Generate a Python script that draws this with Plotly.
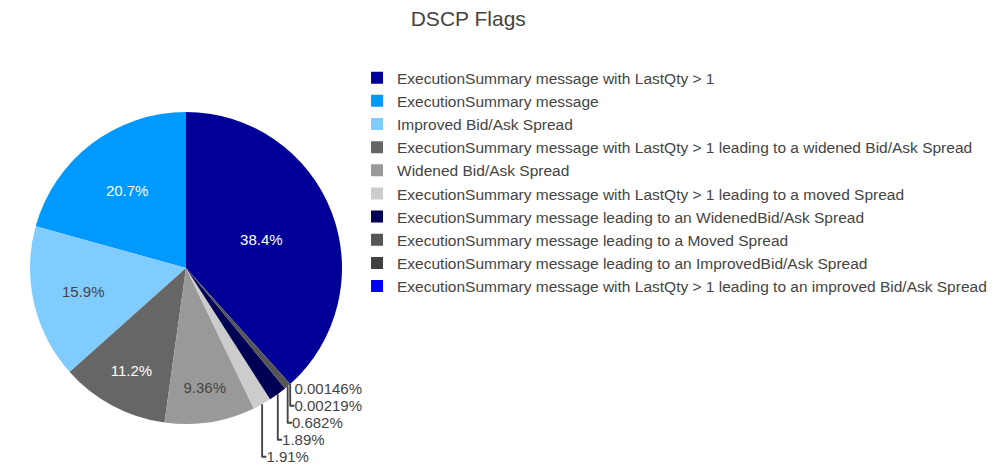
import plotly.graph_objects as go

labels = [
    "ExecutionSummary message with LastQty > 1",
    "ExecutionSummary message",
    "Improved Bid/Ask Spread",
    "ExecutionSummary message with LastQty > 1 leading to a widened Bid/Ask Spread",
    "Widened Bid/Ask Spread",
    "ExecutionSummary message with LastQty > 1 leading to a moved Spread",
    "ExecutionSummary message leading to an WidenedBid/Ask Spread",
    "ExecutionSummary message leading to a Moved Spread",
    "ExecutionSummary message leading to an ImprovedBid/Ask Spread",
    "ExecutionSummary message with LastQty > 1 leading to an improved Bid/Ask Spread",
]
values = [38.36, 20.7, 15.9, 11.2, 9.36, 1.91, 1.89, 0.682, 0.00219, 0.00146]
colors = ["#000099", "#0099ff", "#80ccff", "#666666", "#999999",
          "#cccccc", "#000055", "#555555", "#404040", "#0000ff"]

fig = go.Figure(go.Pie(
    labels=labels,
    values=values,
    sort=False,
    direction="counterclockwise",
    rotation=0,
    marker=dict(colors=colors),
    textinfo="percent",
    textfont=dict(size=15),
    domain=dict(x=[0, 0.324], y=[0, 1]),
))
fig.update_layout(
    width=1005, height=472,
    title=dict(text="DSCP Flags", x=0.458, xanchor="center", y=0.978, yanchor="middle",
               font=dict(size=21, color="#444")),
    font=dict(family="Liberation Sans, Arial", size=15, color="#444"),
    legend=dict(x=0.3396, y=1.163, xanchor="left", yanchor="top", maxheight=400,
                font=dict(size=15.5)),
    margin=dict(l=22, r=20, t=104, b=56, autoexpand=False),
    paper_bgcolor="white",
)
fig.write_html("out.html")
